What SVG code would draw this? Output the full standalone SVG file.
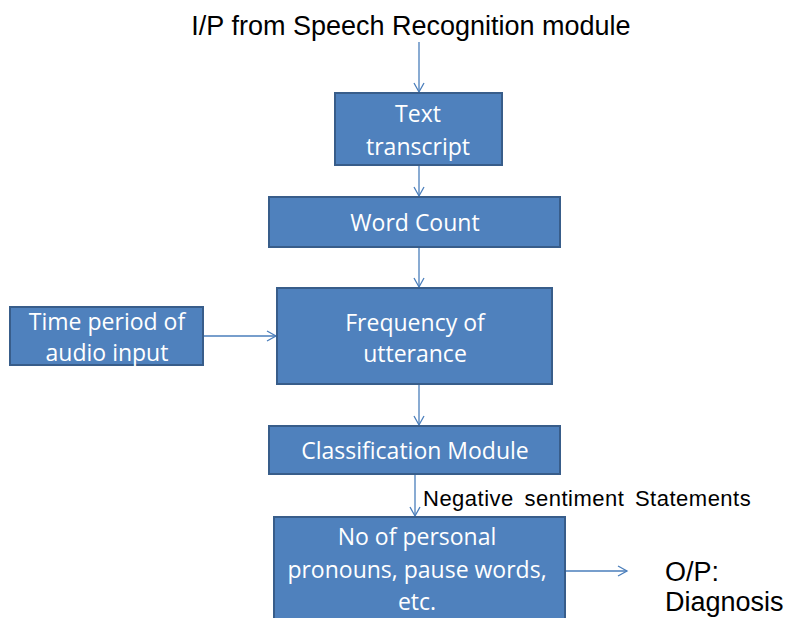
<svg xmlns="http://www.w3.org/2000/svg" width="786" height="618" viewBox="0 0 786 618">
<defs>
<marker id="arr" markerWidth="12" markerHeight="12" refX="10" refY="6" orient="auto" markerUnits="userSpaceOnUse">
<path d="M1,1 L10,6 L1,11" fill="none" stroke="#4A7EBB" stroke-width="1.3"/>
</marker>
</defs>
<style>
.box{fill:#4F81BD;stroke:#385D8A;stroke-width:2}
.bt{fill:#fff;font-family:"Open Sans","Liberation Sans",sans-serif;font-size:23px;text-anchor:middle}
.lt{fill:#000;font-family:"Liberation Sans",Arial,sans-serif}
.c{stroke:#4A7EBB;stroke-width:1.3;fill:none;marker-end:url(#arr)}
</style>
<rect width="786" height="618" fill="#fff"/>
<text class="lt" x="411" y="35" font-size="27" text-anchor="middle">I/P from Speech Recognition module</text>
<g id="connectors">
<line class="c" x1="419" y1="42" x2="419" y2="92"/>
<line class="c" x1="419" y1="165" x2="419" y2="196"/>
<line class="c" x1="419" y1="248" x2="419" y2="287"/>
<line class="c" x1="204" y1="336" x2="276" y2="336"/>
<line class="c" x1="419" y1="385" x2="419" y2="425"/>
<line class="c" x1="415" y1="475" x2="415" y2="516"/>
<line class="c" x1="566" y1="571" x2="627" y2="571"/>
<text class="lt" x="423" y="506" font-size="22" word-spacing="4" letter-spacing="0.5">Negative sentiment Statements</text>
</g>
<g id="text-transcript">
<rect class="box" x="335" y="93" width="167" height="72"/>
<text class="bt" x="418" y="122">Text</text>
<text class="bt" x="418" y="155">transcript</text>
</g>
<g id="word-count">
<rect class="box" x="269" y="197" width="291" height="50"/>
<text class="bt" x="415" y="231">Word Count</text>
</g>
<g id="frequency">
<rect class="box" x="277" y="288" width="275" height="96"/>
<text class="bt" x="415" y="331">Frequency of</text>
<text class="bt" x="415" y="362">utterance</text>
</g>
<g id="time-period">
<rect class="box" x="10" y="307" width="193" height="58"/>
<text class="bt" x="107" y="330">Time period of</text>
<text class="bt" x="107" y="361">audio input</text>
</g>
<g id="classification">
<rect class="box" x="269" y="426" width="291" height="48"/>
<text class="bt" x="415" y="459">Classification Module</text>
</g>
<g id="pronouns">
<rect class="box" x="274" y="517" width="291" height="110"/>
<text class="bt" x="417" y="545">No of personal</text>
<text class="bt" x="417" y="578">pronouns, pause words,</text>
<text class="bt" x="417" y="610">etc.</text>
</g>
<g id="output">
<text class="lt" x="665" y="581" font-size="27">O/P:</text>
<text class="lt" x="665" y="611" font-size="27">Diagnosis</text>
</g>
</svg>
